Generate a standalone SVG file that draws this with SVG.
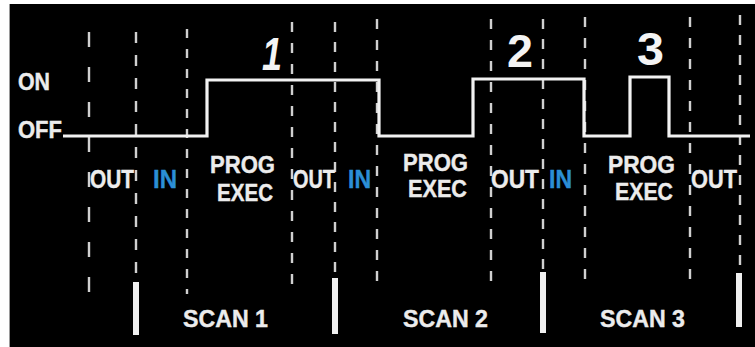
<svg xmlns="http://www.w3.org/2000/svg" width="755" height="347" viewBox="0 0 755 347">
  <style>
    .grid { stroke: #d0d0d0; stroke-width: 2.4; fill: none; }
    .sig { stroke: #f2f2f2; stroke-width: 3.2; fill: none; stroke-linejoin: miter; }
    .bar { fill: #f0f0f0; }
    .lbl { font-family: "Liberation Sans", Arial, sans-serif; font-weight: bold; fill: #ececec; stroke: #ececec; stroke-width: 0.4; }
    .in { fill: #2b8fd6; stroke: #2b8fd6; }
    .num { font-family: "Liberation Sans", Arial, sans-serif; font-weight: bold; fill: #f4f4f4; font-size: 46px; }
  </style>

  <!-- panel -->
  <rect x="0" y="0" width="755" height="347" fill="#ffffff"/>
  <rect x="10" y="4" width="745" height="343" fill="#000000"/>
  <line x1="9.5" y1="4" x2="9.5" y2="347" stroke="#9a9a9a" stroke-width="1"/>

  <!-- dashed phase boundaries -->
  <g id="gridlines">
    <line class="grid" x1="89" y1="32" x2="89" y2="294" stroke-dasharray="15 20"/>
    <line class="grid" x1="136" y1="32" x2="136" y2="284" stroke-dasharray="11 12"/>
    <line class="grid" x1="187" y1="29" x2="187" y2="294" stroke-dasharray="9 11"/>
    <line class="grid" x1="292" y1="22" x2="292" y2="289" stroke-dasharray="10 11"/>
    <line class="grid" x1="335" y1="22" x2="335" y2="280" stroke-dasharray="10 10"/>
    <line class="grid" x1="377" y1="19" x2="377" y2="288" stroke-dasharray="10 11"/>
    <line class="grid" x1="491" y1="19" x2="491" y2="283" stroke-dasharray="10 11"/>
    <line class="grid" x1="543" y1="19" x2="543" y2="274" stroke-dasharray="10 10"/>
    <line class="grid" x1="585" y1="17" x2="585" y2="283" stroke-dasharray="10 11"/>
    <line class="grid" x1="690" y1="17" x2="690" y2="283" stroke-dasharray="10 11"/>
    <line class="grid" x1="740" y1="15" x2="740" y2="275" stroke-dasharray="10 10"/>
  </g>

  <!-- scan boundary bars -->
  <g id="scan-bars">
    <rect class="bar" x="133" y="282" width="6" height="53"/>
    <rect class="bar" x="332" y="278" width="6" height="56"/>
    <rect class="bar" x="540" y="272" width="6" height="61"/>
    <rect class="bar" x="736" y="273" width="6" height="54"/>
  </g>

  <!-- output signal -->
  <g id="signal">
    <polyline class="sig" points="63,136 207,136 207,80 379,80 379,136 473,136 473,79 584,79 584,136 630,136 630,77 669,77 669,136 750,136"/>
  </g>

  <!-- level labels -->
  <g id="levels">
    <text class="lbl" x="18" y="90" font-size="23" textLength="32" lengthAdjust="spacingAndGlyphs">ON</text>
    <text class="lbl" x="18" y="138" font-size="23" textLength="44" lengthAdjust="spacingAndGlyphs">OFF</text>
  </g>

  <!-- output pulse numbers -->
  <g id="pulse-numbers">
    <text class="num" x="262" y="70" font-style="italic" textLength="20" lengthAdjust="spacingAndGlyphs">1</text>
    <text class="num" x="507" y="67" textLength="26" lengthAdjust="spacingAndGlyphs">2</text>
    <text class="num" x="637" y="65" textLength="27" lengthAdjust="spacingAndGlyphs">3</text>
  </g>

  <!-- phase labels -->
  <g id="phase-1">
    <text class="lbl" x="90" y="188" font-size="25" textLength="44" lengthAdjust="spacingAndGlyphs">OUT</text>
    <text class="lbl in" x="153" y="188" font-size="25" textLength="24" lengthAdjust="spacingAndGlyphs">IN</text>
    <text class="lbl" x="210" y="173" font-size="24" textLength="65" lengthAdjust="spacingAndGlyphs">PROG</text>
    <text class="lbl" x="217" y="201" font-size="24" textLength="56" lengthAdjust="spacingAndGlyphs">EXEC</text>
  </g>
  <g id="phase-2">
    <text class="lbl" x="293" y="188" font-size="25" textLength="42" lengthAdjust="spacingAndGlyphs">OUT</text>
    <text class="lbl in" x="348" y="188" font-size="25" textLength="23" lengthAdjust="spacingAndGlyphs">IN</text>
    <text class="lbl" x="403" y="171" font-size="24" textLength="65" lengthAdjust="spacingAndGlyphs">PROG</text>
    <text class="lbl" x="408" y="197" font-size="24" textLength="59" lengthAdjust="spacingAndGlyphs">EXEC</text>
  </g>
  <g id="phase-3">
    <text class="lbl" x="491" y="188" font-size="25" textLength="48" lengthAdjust="spacingAndGlyphs">OUT</text>
    <text class="lbl in" x="549" y="188" font-size="25" textLength="23" lengthAdjust="spacingAndGlyphs">IN</text>
    <text class="lbl" x="608" y="173" font-size="24" textLength="67" lengthAdjust="spacingAndGlyphs">PROG</text>
    <text class="lbl" x="615" y="200" font-size="24" textLength="58" lengthAdjust="spacingAndGlyphs">EXEC</text>
  </g>
  <g id="phase-4">
    <text class="lbl" x="691" y="188" font-size="25" textLength="46" lengthAdjust="spacingAndGlyphs">OUT</text>
  </g>

  <!-- scan labels -->
  <g id="scans">
    <text class="lbl" x="183" y="327" font-size="24" textLength="85" lengthAdjust="spacingAndGlyphs">SCAN 1</text>
    <text class="lbl" x="403" y="327" font-size="24" textLength="85" lengthAdjust="spacingAndGlyphs">SCAN 2</text>
    <text class="lbl" x="600" y="327" font-size="24" textLength="85" lengthAdjust="spacingAndGlyphs">SCAN 3</text>
  </g>
</svg>
